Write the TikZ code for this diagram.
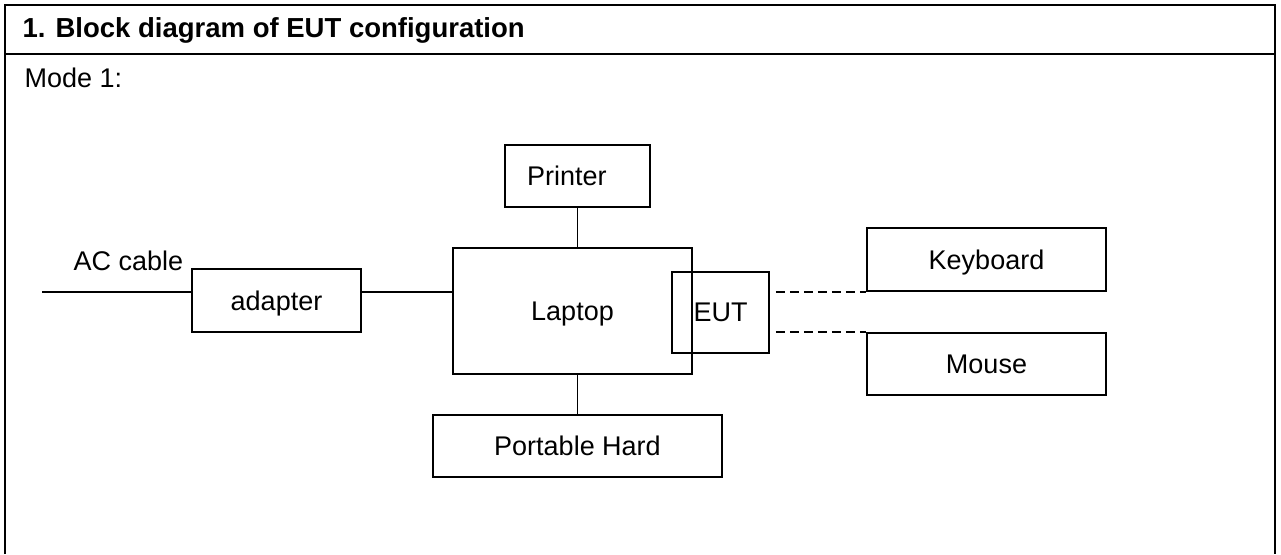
\documentclass[tikz,border=0pt]{standalone}
\usepackage{fontspec}
\setmainfont{Liberation Sans}
\begin{document}
\begin{tikzpicture}[x=1pt, y=-1pt,
    font=\fontsize{27}{32}\selectfont,
    box/.style={draw, line width=1.6pt, inner sep=0pt, text depth=0pt},
    link/.style={line width=1.6pt},
    wire/.style={line width=1.6pt, dash pattern=on 9pt off 5pt}]
  \useasboundingbox (0, 0) rectangle (1281, 554);

  % frame with the title bar
  \draw[line width=2.8pt]
    (5, 554) -- (5, 5) -- (1275, 5) -- (1275, 554)
    (5, 54) -- (1275, 54);
  \node[anchor=base west, font=\fontsize{27.5}{32}\selectfont\bfseries] (title) at (19, 37)
    {1. Block diagram of EUT configuration};
  \node[anchor=base west] (mode) at (21, 87) {Mode 1:};

  % boxes
  \node[box, minimum width=145pt, minimum height=62pt, text width=101pt, align=left,
    inner xsep=22pt] (printer) at (577.5, 176) {Printer};
  \node[box, minimum width=239pt, minimum height=126pt] (laptop) at (572.5, 311) {Laptop};
  \node[box, minimum width=97pt, minimum height=81pt] (eut) at (720.5, 312.5) {EUT};
  \node[box, minimum width=289pt, minimum height=62pt] (portable) at (577.5, 446) {Portable Hard};
  \node[box, minimum width=169pt, minimum height=63pt] (adapter) at (276.5, 300.5) {adapter};
  \node[box, minimum width=239pt, minimum height=63pt] (kbd) at (986.5, 259.5) {Keyboard};
  \node[box, minimum width=239pt, minimum height=62pt] (mouse) at (986.5, 364) {Mouse};

  % power in
  \coordinate (ac) at (42, 292);
  \node[anchor=base west] (aclabel) at (70, 270) {AC cable};
  \draw[link] (ac) -- (ac -| adapter.west);
  \draw[link] (adapter.east |- ac) -- (laptop.west |- ac);

  % cables
  \draw[link] (printer.south) -- (printer.south |- laptop.north);
  \draw[link] (portable.north |- laptop.south) -- (portable.north);
  \draw[wire, shorten <=6pt] (eut.east |- kbd.south) -- (kbd.south west);
  \draw[wire, shorten <=6pt] (eut.east |- mouse.north) -- (mouse.north west);
\end{tikzpicture}
\end{document}
